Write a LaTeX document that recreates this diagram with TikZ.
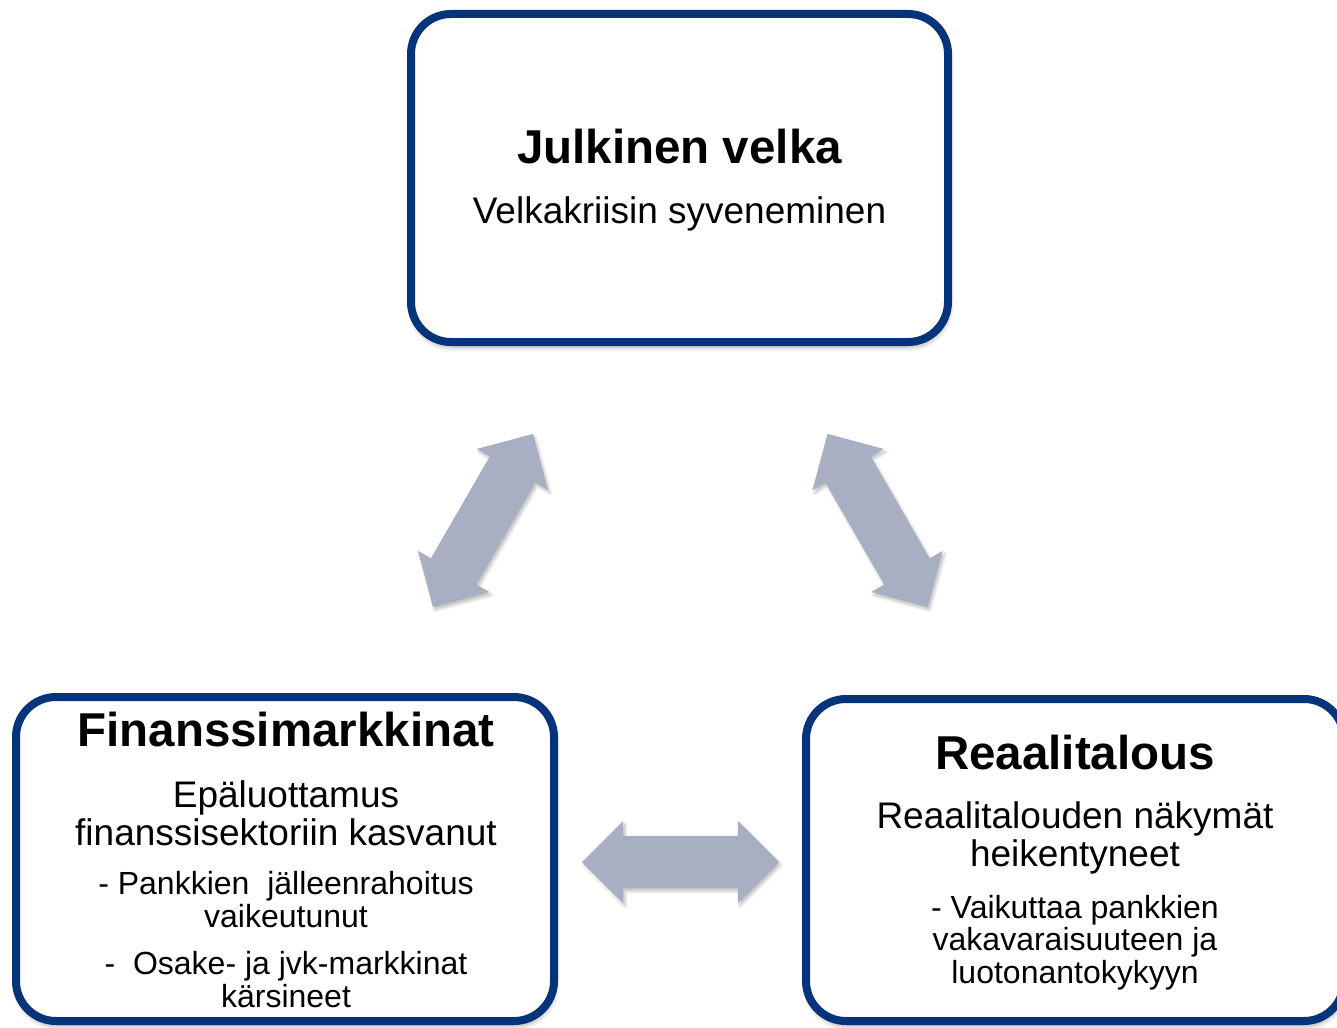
\documentclass[tikz,border=0pt]{standalone}
\usepackage{fontspec}
\setmainfont{Liberation Sans}
\usepackage{tikz}
\usetikzlibrary{shapes.arrows,shadows.blur}
\definecolor{boxblue}{RGB}{6,52,122}
\definecolor{arrowgray}{RGB}{169,175,194}
\newcommand{\titlefont}{\fontsize{47.5}{50}\selectfont\bfseries}
\newcommand{\leadfont}{\fontsize{37}{37.5}\selectfont}
\newcommand{\notefont}{\fontsize{32}{32.3}\selectfont}

\begin{document}
\begin{tikzpicture}[x=1pt,y=-1pt,
		box/.style={draw=boxblue,line width=8pt,rounded corners=40pt,fill=white,inner sep=0pt,
			blur shadow={shadow xshift=1pt,shadow yshift=-5pt,shadow opacity=35,shadow blur radius=5pt}},
		dblarrow/.style={double arrow,fill=arrowgray,draw=none,inner xsep=0pt,inner ysep=26pt,
			minimum height=200pt,double arrow head extend=15pt,double arrow tip angle=90,
			blur shadow={shadow xshift=2pt,shadow yshift=-3pt,shadow opacity=25,shadow blur radius=3pt}},
		title/.style={anchor=base,font=\titlefont},
		lead/.style={anchor=base,align=center,font=\leadfont},
		note/.style={anchor=base,align=center,font=\notefont}]
	\useasboundingbox (0,0) rectangle (1337,1027);
	% laatikot
	\node (velka) [box,minimum width=537pt,minimum height=328pt] at (679.5,178) {};
	\node (finmark) [box,minimum width=538pt,minimum height=324pt] at (285,859) {};
	\node (reaali) [box,minimum width=538pt,minimum height=322pt] at (1075,860) {};
	% nuolet
	\node (nuoliV) [dblarrow,rotate=60] at (483,520.5) {};
	\node (nuoliO) [dblarrow,rotate=-60] at (877.5,520.5) {};
	\node (nuoliA) [dblarrow,minimum height=197pt] at (680.5,862) {};
	% tekstit (base = viimeisen rivin perusviiva)
	\node (velkaOts) [title] at (679.5,164) {Julkinen velka};
	\node (velkaTxt) [lead] at (679.5,223) {Velkakriisin syveneminen};
	\node (finOts) [title] at (286,746) {Finanssimarkkinat};
	\node (finTxt) [lead] at (286,845) {Epäluottamus\\finanssisektoriin kasvanut};
	\node (finPankit) [note] at (286,927) {- Pankkien\ \ jälleenrahoitus\\vaikeutunut};
	\node (finOsake) [note] at (286,1007) {-\ \ Osake- ja jvk-markkinat\\kärsineet};
	\node (reaaliOts) [title] at (1075,769) {Reaalitalous};
	\node (reaaliTxt) [lead] at (1075,866) {Reaalitalouden näkymät\\heikentyneet};
	\node (reaaliVaik) [note] at (1075,983) {- Vaikuttaa pankkien\\vakavaraisuuteen ja\\luotonantokykyyn};
\end{tikzpicture}
\end{document}
